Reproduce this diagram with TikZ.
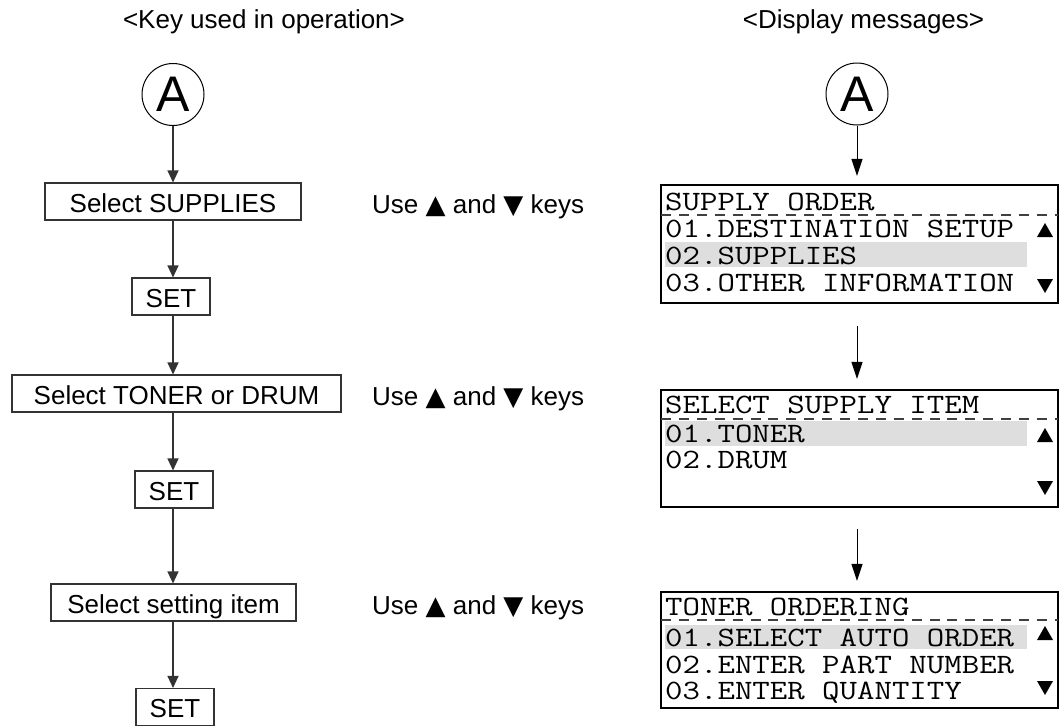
\documentclass[tikz,border=0pt]{standalone}
\usepackage{fontspec}
\setmainfont{Liberation Sans}
\newfontfamily\symfont{DejaVu Sans}
\usetikzlibrary{arrows.meta}
\definecolor{hl}{gray}{0.87}
\newcommand{\lcdtxt}[1]{\scalebox{1.21}[1]{\fontsize{28}{28}\selectfont\ttfamily #1}}
\newcommand{\upk}{{\symfont ▲}}
\newcommand{\dnk}{{\symfont ▼}}
\begin{document}
\begin{tikzpicture}[x=1pt,y=-1pt,
  kbox/.style={draw=black!80, line width=1.1pt, inner sep=0pt, minimum height=37pt,
    text height=21pt, text depth=0pt, font=\fontsize{26}{26}\selectfont},
  larr/.style={draw=black!80, line width=1.1pt, -{Triangle[length=12pt,width=11pt]}},
  rarr/.style={draw=black, line width=1pt, -{Triangle[length=17pt,width=11pt]}},
  circ/.style={draw, circle, line width=1pt, minimum size=62pt, inner sep=0pt,
    font=\fontsize{50}{50}\selectfont},
  lcd/.style={draw, line width=2.2pt, inner sep=0pt, minimum width=397pt},
  hdr/.style={anchor=base, inner sep=0pt, font=\fontsize{26}{26}\selectfont},
  lcdline/.style={anchor=base west, inner sep=0pt, text height=17pt, text depth=2pt},
  dashln/.style={draw=black!75, line width=1.3pt, dash pattern=on 10pt off 7.9pt},
  tri/.style={fill=black}
]
\useasboundingbox (0,0) rectangle (1060,726);

% headers
\node[hdr] (h1) at (264,28) {<Key used in operation>};
\node[hdr] (h2) at (863.5,28) {<Display messages>};

% ---------------- left column ----------------
\node[circ] (cL) at (173,94.5) {A};
\node[kbox, minimum width=256pt] (b1) at (173,201.5) {Select SUPPLIES};
\node[kbox, minimum width=78pt]  (s1) at (171,296.5) {SET};
\node[kbox, minimum width=329pt] (b2) at (176.5,393.5) {Select TONER or DRUM};
\node[kbox, minimum width=78pt]  (s2) at (174,489.5) {SET};
\node[kbox, minimum width=245pt] (b3) at (173.5,602.5) {Select setting item};
\node[kbox, minimum width=78pt]  (s3) at (175,707) {SET};

\draw[larr] (cL) -- (cL |- b1.north);
\draw[larr] (b1.south -| cL) -- (s1.north -| cL);
\draw[larr] (s1.south -| cL) -- (b2.north -| cL);
\draw[larr] (b2.south -| cL) -- (s2.north -| cL);
\draw[larr] (s2.south -| cL) -- (b3.north -| cL);
\draw[larr] (b3.south -| cL) -- (s3.north -| cL);

% key hints
\node[hdr, anchor=base west] (u1) at (372,213) {Use \upk\ and \dnk\ keys};
\node[hdr, anchor=base west] (u2) at (372,405) {Use \upk\ and \dnk\ keys};
\node[hdr, anchor=base west] (u3) at (372,614) {Use \upk\ and \dnk\ keys};

% ---------------- right column ----------------
\node[circ] (cR) at (857,94) {A};

% panel 1 (top 185, bottom 303)
\fill[hl] (665,242) rectangle (1027,267);
\node[lcd, minimum height=118pt] (p1) at (859.5,244) {};
\draw[dashln] (661,215) -- (1058,215);
\node[lcdline] (p1t) at (665,210) {\lcdtxt{SUPPLY ORDER}};
\node[lcdline] (p1a) at (665,237) {\lcdtxt{01.DESTINATION SETUP}};
\node[lcdline] (p1b) at (665,264) {\lcdtxt{02.SUPPLIES}};
\node[lcdline] (p1c) at (665,291) {\lcdtxt{03.OTHER INFORMATION}};
\fill[tri] (1037,237) -- (1053,237) -- (1045,223) -- cycle;
\fill[tri] (1037,279) -- (1053,279) -- (1045,293) -- cycle;

% panel 2 (top 390, bottom 507)
\fill[hl] (665,421) rectangle (1027,446);
\node[lcd, minimum height=117pt] (p2) at (859.5,448.5) {};
\draw[dashln] (661,419) -- (1058,419);
\node[lcdline] (p2t) at (665,413) {\lcdtxt{SELECT SUPPLY ITEM}};
\node[lcdline] (p2a) at (665,442) {\lcdtxt{01.TONER}};
\node[lcdline] (p2b) at (665,468) {\lcdtxt{02.DRUM}};
\fill[tri] (1037,442) -- (1053,442) -- (1045,428) -- cycle;
\fill[tri] (1037,481) -- (1053,481) -- (1045,495) -- cycle;

% panel 3 (top 592, bottom 708)
\fill[hl] (665,625) rectangle (1027,649);
\node[lcd, minimum height=116pt] (p3) at (859.5,650) {};
\draw[dashln] (661,620) -- (1058,620);
\node[lcdline] (p3t) at (665,615) {\lcdtxt{TONER ORDERING}};
\node[lcdline] (p3a) at (665,646) {\lcdtxt{01.SELECT AUTO ORDER}};
\node[lcdline] (p3b) at (665,673) {\lcdtxt{02.ENTER PART NUMBER}};
\node[lcdline] (p3c) at (665,699) {\lcdtxt{03.ENTER QUANTITY}};
\fill[tri] (1037,640) -- (1053,640) -- (1045,626) -- cycle;
\fill[tri] (1037,681) -- (1053,681) -- (1045,695) -- cycle;

% right arrows
\draw[rarr, shorten >=8pt] (cR) -- (cR |- p1.north);
\draw[rarr, shorten <=22pt, shorten >=10pt] (p1.south -| cR) -- (p2.north -| cR);
\draw[rarr, shorten <=21pt, shorten >=10pt] (p2.south -| cR) -- (p3.north -| cR);
\end{tikzpicture}
\end{document}
